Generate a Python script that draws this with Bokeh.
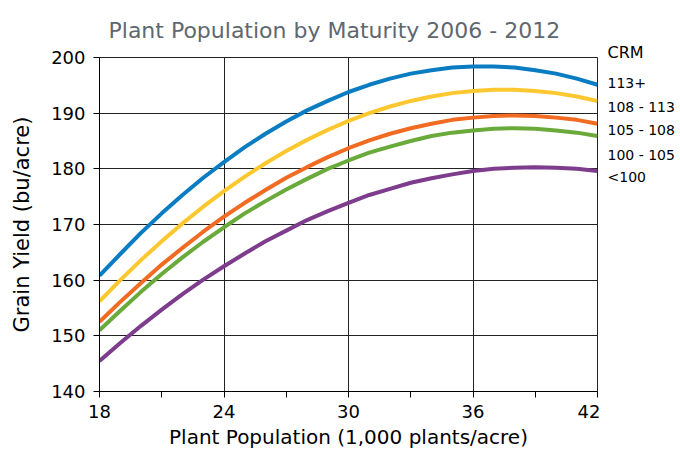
from bokeh.plotting import figure
from bokeh.models import FixedTicker, Range1d
from bokeh.layouts import row
from bokeh.core.properties import value
from bokeh.embed import file_html
from bokeh.resources import INLINE

# ---- data ----
population = [18, 19, 20, 21, 22, 23, 24, 25, 26, 27, 28, 29, 30,
              31, 32, 33, 34, 35, 36, 37, 38, 39, 40, 41, 42]
crm_113_plus = [160.8, 164.7, 168.5, 172.0, 175.3, 178.4, 181.2, 183.9, 186.3, 188.5, 190.5, 192.2, 193.8,
                195.1, 196.2, 197.1, 197.7, 198.2, 198.4, 198.4, 198.2, 197.7, 197.1, 196.2, 195.1]
crm_108_113 = [156.2, 160.0, 163.6, 167.0, 170.2, 173.2, 176.0, 178.6, 181.0, 183.2, 185.2, 187.0, 188.6,
               190.0, 191.2, 192.2, 193.0, 193.6, 194.0, 194.2, 194.2, 194.0, 193.6, 193.0, 192.2]
crm_105_108 = [152.5, 156.1, 159.5, 162.8, 165.8, 168.7, 171.4, 173.9, 176.2, 178.4, 180.3, 182.1, 183.7,
               185.1, 186.3, 187.3, 188.1, 188.8, 189.2, 189.5, 189.6, 189.5, 189.2, 188.8, 188.1]
crm_100_105 = [151.0, 154.5, 157.9, 161.1, 164.1, 166.9, 169.5, 172.0, 174.2, 176.3, 178.2, 180.0, 181.5,
               182.9, 184.0, 185.0, 185.9, 186.5, 186.9, 187.2, 187.3, 187.2, 186.9, 186.5, 185.9]
crm_under_100 = [145.5, 148.7, 151.8, 154.7, 157.5, 160.1, 162.5, 164.8, 167.0, 168.9, 170.8, 172.4, 173.9,
                 175.3, 176.4, 177.5, 178.3, 179.0, 179.6, 180.0, 180.2, 180.3, 180.2, 180.0, 179.6]
series_names = ["113+", "108 - 113", "105 - 108", "100 - 105", "<100"]
legend_title = "CRM"
x_ticks = [18, 24, 30, 36, 42]
x_minor = [21, 27, 33, 39]
y_ticks = [140, 150, 160, 170, 180, 190, 200]

# ---- styles / layout ----
colors = ["#0a7cc1", "#fdc82f", "#f26b22", "#6aaa3b", "#7d3c8c"]
FONT = "DejaVu Sans"
Y0, Y1 = 140, 200
H = 455
TOP, BOTTOM = 57, 64
LEFT, RIGHT = 99, 3
W_MAIN = 600
W_SIDE = 78
# vertical positions of the side labels (in y-axis units)
label_y = [195.35, 191.17, 187.0, 182.55, 178.47]
title_y = 200.86

p = figure(width=W_MAIN, height=H, output_backend="svg", toolbar_location=None,
           x_range=Range1d(18, 42), y_range=Range1d(Y0, Y1),
           min_border_left=LEFT, min_border_right=RIGHT, min_border_top=TOP, min_border_bottom=BOTTOM)
p.frame_align = False

p.title.text = "Plant Population by Maturity 2006 - 2012"
p.title.align = "left"
p.title.offset = 9
p.title.text_font = FONT
p.title.text_font_size = "22px"
p.title.text_font_style = "normal"
p.title.text_color = "#5f6770"
p.title.standoff = 30

series = [crm_113_plus, crm_108_113, crm_105_108, crm_100_105, crm_under_100]
for ys, c in zip(series, colors):
    p.line(population, ys, line_color=c, line_width=4)

p.xaxis.ticker = FixedTicker(ticks=x_ticks, minor_ticks=x_minor)
p.yaxis.ticker = FixedTicker(ticks=y_ticks)
for ax in (p.xaxis[0], p.yaxis[0]):
    ax.axis_line_color = "black"
    ax.major_tick_line_color = "black"
    ax.major_tick_out = 6
    ax.major_tick_in = 0
    ax.major_label_text_font = FONT
    ax.major_label_text_font_size = "18px"
    ax.major_label_text_color = "black"
    ax.axis_label_text_font = FONT
    ax.axis_label_text_font_style = "normal"
    ax.axis_label_text_color = "black"
p.xaxis.axis_label_text_font_size = "20px"
p.yaxis.axis_label_text_font_size = "21px"
p.xaxis.minor_tick_line_color = "black"
p.xaxis.minor_tick_out = 6
p.xaxis.minor_tick_in = 0
p.yaxis.minor_tick_line_color = None
p.xaxis.major_label_standoff = 7
p.yaxis.major_label_standoff = 8
p.xaxis.axis_label = "Plant Population (1,000 plants/acre)"
p.yaxis.axis_label = "Grain Yield (bu/acre)"
p.xaxis.axis_label_standoff = 4
p.yaxis.axis_label_standoff = 14

p.xgrid.grid_line_color = "#222222"
p.ygrid.grid_line_color = "#222222"
p.xgrid.ticker = FixedTicker(ticks=x_ticks)
p.ygrid.ticker = FixedTicker(ticks=y_ticks)
p.outline_line_color = "#222222"
p.outline_line_width = 1

# side panel holding the CRM labels; its frame spans the full height and
# is mapped with the same y scale as the main plot
px_per_unit = (H - TOP - BOTTOM) / (Y1 - Y0)
side_top = Y1 + TOP / px_per_unit
side_bottom = Y0 - BOTTOM / px_per_unit
s = figure(width=W_SIDE, height=H, output_backend="svg", toolbar_location=None,
           x_range=Range1d(0, W_SIDE), y_range=Range1d(side_bottom, side_top),
           x_axis_location=None, y_axis_location=None,
           min_border_left=0, min_border_right=0, min_border_top=0, min_border_bottom=0)
s.frame_align = False
s.grid.visible = False
s.outline_line_color = None
s.text(x=[7], y=[title_y], text=[legend_title], text_font=value(FONT), text_font_size="16px",
       text_baseline="middle", text_color="black")
s.text(x=[7] * len(series_names), y=label_y, text=series_names, text_font=value(FONT),
       text_font_size="14px", text_baseline="middle", text_color="black")

open("out.html", "w").write(file_html(row(p, s), INLINE))
